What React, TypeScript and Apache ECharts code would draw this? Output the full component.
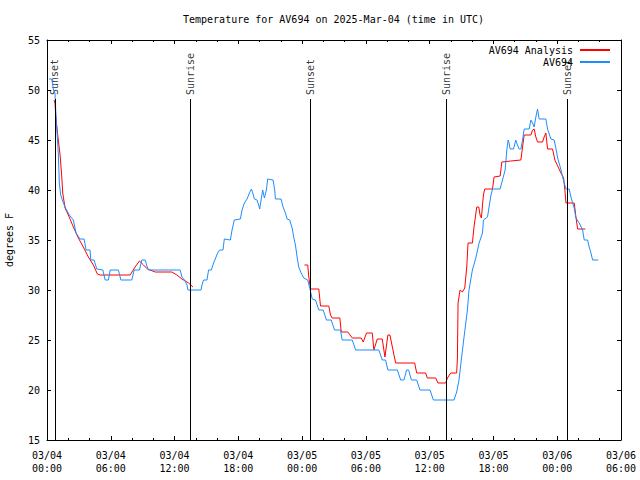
import React, { useEffect, useRef } from "react";
import * as echarts from "echarts";

// Hours since 03/04 00:00 UTC
const obsHours = [
  0.19, 0.44, 0.52, 0.59, 0.75, 0.85, 0.97, 1.06, 1.16, 1.29, 1.54, 1.79, 2.1, 2.48, 2.73, 3.11, 3.49, 3.68, 4.05, 4.12,
  4.43, 4.68, 5.25, 5.47, 5.78, 5.94, 6.72, 6.95, 7.98, 8.2, 8.7, 8.92, 9.24, 9.4, 9.55, 12.53, 12.69, 12.94, 13.17, 13.26,
  14.49, 14.58, 14.73, 15.05, 15.2, 15.46, 15.67, 15.83, 16.05, 16.24, 16.56, 16.68, 17.25, 17.41, 17.62, 18.19, 18.35,
  18.57, 18.82, 19.04, 19.23, 19.39, 19.51, 19.76, 19.91, 20.01, 20.14, 20.29, 20.45, 20.64, 20.76, 21.27, 21.42, 21.49,
  22.02, 22.21, 22.43, 22.59, 22.83, 23.06, 23.21, 23.37, 23.53, 23.68, 23.91, 24.15, 24.53, 24.72, 24.95, 25.26, 25.57,
  25.98, 26.29, 26.74, 27.05, 27.61, 27.77, 28.72, 29.03, 31.22, 31.54, 31.85, 32.07, 32.96, 33.27, 33.58, 33.83, 34.02,
  34.28, 34.78, 35.09, 36.03, 36.35, 38.29, 38.54, 38.76, 38.92, 39.2, 39.55, 39.7, 40.02, 40.34, 40.65, 40.97, 41.06,
  41.44, 41.59, 41.75, 41.91, 42.63, 42.85, 43.1, 43.26, 43.38, 43.47, 43.57, 43.89, 44.1, 44.26, 44.42, 44.58, 44.74,
  44.89, 45.36, 45.52, 45.68, 45.83, 45.99, 46.15, 46.3, 46.93, 47.09, 47.4, 47.71, 47.87, 48.04, 48.28, 48.51, 48.66,
  48.82, 49.13, 49.29, 49.45, 49.6, 49.76, 50.07, 50.39, 50.54, 50.86, 51.01, 51.17, 51.33, 51.86,
];
const obsTemps = [
  51.1, 51.1, 50.7, 50.1, 49.7, 47.3, 45.3, 43.7, 40.7, 39.5, 38.7, 38.1, 37.5, 37, 35.7, 35.1, 35.1, 34, 34, 33,
  33, 32.1, 32, 31, 31, 32, 32, 31, 31, 32, 32, 33, 33, 32.4, 32, 32, 31.3, 31, 30.5, 30,
  30, 30.5, 31, 31, 32, 32, 32.7, 33.1, 33.7, 34, 34, 35.1, 35, 36, 37, 37.1, 38,
  38.7, 39.1, 39.7, 40.1, 39.6, 39.1, 39, 38.5, 38.1, 39, 40, 39.2, 40, 41.1, 41, 40, 39.1,
  39.1, 38.3, 37.7, 37.1, 37, 36.2, 35.3, 34.5, 33.3, 32.3, 31.7, 31.2, 31, 30.2, 29.1, 29, 28,
  28, 27, 27, 26, 26, 25, 25, 24, 24, 23, 23, 22, 22, 21, 21, 22, 22,
  21, 21, 20, 20, 19, 19, 19.8, 21, 22.5, 25, 28, 30, 32, 33.2, 34.7, 35.7, 37,
  37.3, 38.3, 39.4, 40.1, 40.1, 41, 42, 44, 45, 44.7, 44.1, 44.1, 45, 44.5, 44.1, 44.1, 45,
  46.1, 46.1, 47, 46.7, 46.3, 47.3, 48.1, 47.1, 47.1, 46.1, 45.1, 45, 44.2, 43.2, 42.3, 41.3, 40.7,
  40.1, 40.1, 39.3, 38.7, 38.2, 37.2, 36.7, 36, 35, 35, 34.3, 33.7, 33, 33,
];

const anaHours = [
  0.66, 0.75, 0.82, 0.91, 1.06, 1.23, 1.29, 1.39, 1.48, 1.7, 2.01, 2.48, 2.95, 3.42, 3.89, 4.36, 4.74, 4.99, 7.82, 8.29,
  8.7, 9.08, 9.45, 10.18, 11.75, 12.22, 12.69, 13.32, 13.73, 19,
  24.22, 24.53, 24.63, 24.79, 25.57, 25.73, 26.51, 26.67, 26.83, 27.55, 27.68, 28.3, 28.72, 29.56, 29.75, 30.06, 30.6,
  30.75, 31.07, 31.54, 31.79, 32.07, 32.26, 32.49, 32.8, 34.59, 34.78, 35.62, 35.78, 36.57, 36.78, 37.51, 37.67, 37.98,
  38.54, 38.61, 38.67, 38.86, 39.08, 39.3, 39.49, 39.61, 40.02, 40.17, 40.43, 40.62, 40.74, 40.87, 40.97, 41.06, 41.18,
  41.91, 42.06, 42.63, 42.79, 43.63, 44.58, 44.74, 44.89, 45.52, 45.68, 45.83, 45.99, 46.15, 46.62, 46.77, 46.93, 47.09,
  47.56, 47.78, 48.04, 48.35, 48.6, 48.72, 48.82, 49.6, 49.76, 49.92, 50.64,
];
const anaTemps: (number | null)[] = [
  49, 48.7, 47.5, 46.5, 45, 43.5, 42.7, 41.3, 39.7, 38.2, 37.5, 36.3, 35.2, 34.3, 33.3, 32.5, 31.6, 31.5, 31.5, 32.3,
  32.9, 32.5, 32.1, 31.8, 31.8, 31.5, 31.1, 30.7, 30.3, null,
  32.5, 32.5, 31.3, 30.1, 30.1, 28.4, 28.4, 27.5, 27.2, 27.2, 25.8, 25.8, 25.2, 25.2, 24.8, 25.7, 25.7,
  24, 25.1, 25.1, 23.3, 25.5, 25.5, 24.3, 22.7, 22.7, 21.7, 21.7, 21.2, 21.2, 20.7, 20.7, 21.2, 21.7,
  21.7, 23.2, 28.7, 30, 29.8, 30.2, 32.3, 34.7, 34.7, 36.3, 38.3, 38.3, 37.5, 37.2, 38.5, 39.5, 40.1,
  40.1, 41.3, 41.4, 42.8, 42.9, 43, 44.3, 45.5, 45.5, 46, 46.1, 45.3, 44.8, 44.8, 45.3, 45.7, 44.1,
  44.1, 43, 42.4, 41.7, 41.2, 40, 38.7, 38.7, 37.3, 36.1, 36.1,
];

const sunHours = [0.75, 13.51, 24.79, 37.57, 48.94];
const sunNames = ["Sunset", "Sunrise", "Sunset", "Sunrise", "Sunset"];

const xTickLabels = [
  "03/04\n00:00", "03/04\n06:00", "03/04\n12:00", "03/04\n18:00", "03/05\n00:00",
  "03/05\n06:00", "03/05\n12:00", "03/05\n18:00", "03/06\n00:00", "03/06\n06:00",
];

const FONT = "'DejaVu Sans Mono', 'Liberation Mono', monospace";

export default function App() {
  const ref = useRef<HTMLDivElement>(null);
  useEffect(() => {
    if (!ref.current) return;
    const chart = echarts.init(ref.current, null, { renderer: "svg" });
    const obsData = obsHours.map((h, i) => [h, obsTemps[i]]);
    const anaData = anaHours.map((h, i) => [h, anaTemps[i] === null ? "-" : anaTemps[i]]);
    const sunTextY = 49.5;
    const sunLineTop = 49.1;
    const axisCommon = {
      axisLine: { show: true, onZero: false, lineStyle: { color: "#000", width: 1 } },
      splitLine: { show: false },
    };
    const legendText = { fontFamily: FONT, fontSize: 10, color: "#000", padding: [0, 2, 0, 0] };
    chart.setOption({
      animation: false,
      backgroundColor: "#fff",
      textStyle: { fontFamily: FONT },
      title: {
        text: "Temperature for AV694 on 2025-Mar-04 (time in UTC)",
        left: 183,
        top: 14,
        padding: 0,
        textStyle: { fontFamily: FONT, fontSize: 10, fontWeight: "normal", color: "#000" },
      },
      legend: [
        {
          data: ["AV694 Analysis"],
          orient: "vertical",
          right: 30,
          top: 45,
          align: "right",
          itemWidth: 30,
          itemHeight: 2,
          padding: 0,
          icon: "rect",
          textStyle: legendText,
        },
        {
          data: ["AV694"],
          orient: "vertical",
          right: 30,
          top: 57,
          align: "right",
          itemWidth: 30,
          itemHeight: 2,
          padding: 0,
          icon: "rect",
          textStyle: legendText,
        },
      ],
      grid: {
        left: 47,
        right: 19,
        top: 40,
        bottom: 40,
        containLabel: false,
        outerBoundsMode: "none",
      },
      xAxis: [
        {
          type: "value",
          min: 0,
          max: 54,
          interval: 6,
          position: "bottom",
          ...axisCommon,
          axisTick: { show: true, inside: true, length: 4, lineStyle: { color: "#000" } },
          minorTick: { show: true, splitNumber: 3, length: 2, lineStyle: { color: "#000" } },
          axisLabel: {
            color: "#000",
            fontFamily: FONT,
            fontSize: 10,
            lineHeight: 13,
            margin: 9,
            hideOverlap: false,
            formatter: (v: number) => xTickLabels[Math.round(v / 6)] ?? "",
          },
        },
        {
          type: "value",
          min: 0,
          max: 54,
          interval: 6,
          position: "top",
          ...axisCommon,
          axisTick: { show: true, inside: true, length: 4, lineStyle: { color: "#000" } },
          minorTick: { show: true, splitNumber: 3, length: 2, lineStyle: { color: "#000" } },
          axisLabel: { show: false },
        },
      ],
      yAxis: [
        {
          type: "value",
          min: 15,
          max: 55,
          interval: 5,
          position: "left",
          name: "degrees F",
          nameLocation: "middle",
          nameGap: 33,
          nameRotate: 90,
          nameTextStyle: { fontFamily: FONT, fontSize: 10, color: "#000" },
          ...axisCommon,
          axisTick: { show: true, inside: true, length: 4, lineStyle: { color: "#000" } },
          axisLabel: { color: "#000", fontFamily: FONT, fontSize: 10, margin: 7 },
        },
        {
          type: "value",
          min: 15,
          max: 55,
          interval: 5,
          position: "right",
          ...axisCommon,
          axisTick: { show: true, inside: true, length: 4, lineStyle: { color: "#000" } },
          axisLabel: { show: false },
        },
      ],
      series: [
        {
          name: "sun",
          type: "scatter",
          silent: true,
          symbolSize: 0,
          z: 1,
          data: sunHours.map((h, i) => ({ value: [h, sunTextY], name: sunNames[i] })),
          label: {
            show: true,
            position: "inside",
            rotate: 90,
            align: "left",
            verticalAlign: "middle",
            formatter: (p: any) => p.name,
            fontFamily: FONT,
            fontSize: 10,
            color: "#000",
          },
          markLine: {
            silent: true,
            symbol: "none",
            label: { show: false },
            lineStyle: { color: "#000", width: 1, type: "solid" },
            data: sunHours.map((h) => [{ coord: [h, sunLineTop] }, { coord: [h, 15] }]),
          },
        },
        {
          name: "AV694 Analysis",
          type: "line",
          data: anaData,
          showSymbol: false,
          symbol: "none",
          connectNulls: false,
          z: 2,
          color: "#ff0000",
          lineStyle: { color: "#ff0000", width: 1 },
        },
        {
          name: "AV694",
          type: "line",
          data: obsData,
          showSymbol: false,
          symbol: "none",
          z: 3,
          color: "#1e8cff",
          lineStyle: { color: "#1e8cff", width: 1 },
        },
      ],
    });
    return () => chart.dispose();
  }, []);
  return (
    <div
      ref={ref}
      style={{ position: "fixed", left: 0, top: 0, width: 640, height: 480, background: "#fff" }}
    />
  );
}
